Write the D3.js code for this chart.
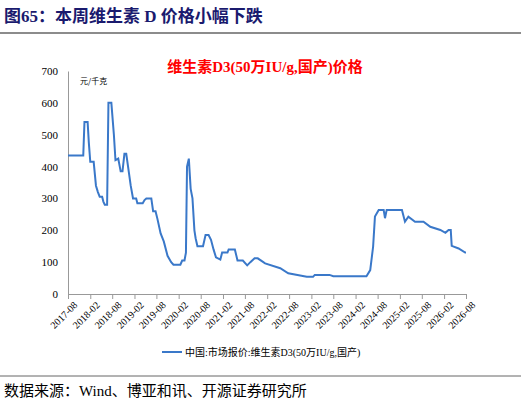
<!DOCTYPE html><html><head><meta charset="utf-8"><script src="https://cdn.jsdelivr.net/npm/d3@7"></script>
<style>body{margin:0;background:#fff}</style></head><body><svg id="c" width="521" height="407"></svg>
<script>
const dates=["2017-08-01","2017-12-05","2017-12-15","2018-01-10","2018-01-20","2018-02-01","2018-03-01","2018-03-20","2018-04-05","2018-04-20","2018-05-10","2018-05-20","2018-06-01","2018-06-20","2018-07-01","2018-07-25","2018-08-15","2018-08-28","2018-09-20","2018-10-10","2018-10-25","2018-11-10","2018-11-25","2018-12-10","2019-01-01","2019-01-20","2019-02-15","2019-02-25","2019-04-10","2019-04-25","2019-05-10","2019-06-20","2019-07-05","2019-07-25","2019-08-10","2019-09-05","2019-10-01","2019-11-01","2019-12-01","2019-12-20","2020-02-15","2020-03-01","2020-03-20","2020-04-01","2020-04-10","2020-04-25","2020-05-10","2020-05-25","2020-06-10","2020-06-20","2020-07-05","2020-08-20","2020-09-10","2020-10-05","2020-10-25","2020-11-15","2020-12-05","2021-01-10","2021-01-25","2021-03-10","2021-03-20","2021-05-10","2021-06-01","2021-07-15","2021-08-20","2021-09-15","2021-10-20","2021-11-15","2022-01-15","2022-05-20","2022-07-25","2022-12-25","2023-02-15","2023-03-01","2023-07-01","2023-08-01","2024-05-01","2024-06-01","2024-06-25","2024-07-10","2024-08-10","2024-09-20","2024-10-01","2024-10-15","2025-02-18","2025-03-15","2025-04-12","2025-06-06","2025-08-15","2025-10-10","2026-01-01","2026-02-12","2026-03-10","2026-03-28","2026-04-05","2026-06-01","2026-07-25","2026-08-01"];
const values=[435,435,540,540,475,415,415,340,320,305,305,290,280,280,600,600,500,420,425,385,385,440,440,400,340,300,300,285,285,295,300,300,260,260,235,190,165,120,100,92,92,105,105,130,400,425,330,300,200,175,150,150,185,185,170,140,115,108,130,130,140,140,105,105,90,100,112,112,96,81,65,54,54,60,60,56,56,75,149,243,264,264,238,264,264,227,243,227,227,211,201,192,201,201,151,143,130,130];
const yTicks=[0,100,200,300,400,500,600,700];
const xTickLabels=d3.range(0,19).map(i=>{const d=new Date(2017,7+6*i,1);return d3.timeFormat("%Y-%m")(d);});
const svg=d3.select("#c");
const serif="'Liberation Serif','Times New Roman',serif", cjk="'Noto Sans CJK SC',sans-serif";
const x=d3.scaleTime().domain([new Date(2017,7,1),new Date(2026,7,1)]).range([68,466]);
const y=d3.scaleLinear().domain([0,700]).range([294,71]);
svg.append("text").attr("x",4).attr("y",22).attr("font-family",serif+","+cjk).attr("font-weight","bold").attr("font-size",17).attr("fill","#1a1a6e").text("图65：本周维生素 D 价格小幅下跌");
svg.append("line").attr("x1",0).attr("x2",521).attr("y1",33).attr("y2",33).attr("stroke","#666").attr("stroke-width",1.5);
svg.append("text").attr("x",265).attr("y",72).attr("text-anchor","middle").attr("font-family",serif+","+cjk).attr("font-weight","bold").attr("font-size",15).attr("fill","#ff0000").text("维生素D3(50万IU/g,国产)价格");
const ya=svg.append("g").attr("transform","translate(68,0)").call(d3.axisLeft(y).tickValues(yTicks).tickSize(0).tickPadding(10));
ya.select(".domain").attr("stroke","#999");
ya.selectAll("text").attr("font-family",serif).attr("font-size",11).attr("fill","#000");
const xa=svg.append("g").attr("transform","translate(0,294)").call(d3.axisBottom(x).tickValues(xTickLabels.map(s=>d3.timeParse("%Y-%m")(s))).tickFormat(d3.timeFormat("%Y-%m")).tickSize(5));
xa.select(".domain").attr("stroke","#999");xa.selectAll("line").attr("stroke","#999");
xa.selectAll("text").attr("font-family",serif).attr("font-size",10).attr("fill","#000").attr("text-anchor","end").attr("dy",0).attr("transform","translate(4,6) rotate(-45)");
svg.append("text").attr("x",80).attr("y",84).attr("font-family",cjk).attr("font-size",8).text("元/千克");
const data=dates.map((d,i)=>[d3.timeParse("%Y-%m-%d")(d),values[i]]);
svg.append("path").datum(data).attr("fill","none").attr("stroke","#3a78c9").attr("stroke-width",2).attr("d",d3.line().x(d=>x(d[0])).y(d=>y(d[1])));
svg.append("line").attr("x1",162).attr("x2",182).attr("y1",352).attr("y2",352).attr("stroke","#3a78c9").attr("stroke-width",2);
svg.append("text").attr("x",185).attr("y",356).attr("font-family",serif+","+cjk).attr("font-size",10).text("中国:市场报价:维生素D3(50万IU/g,国产)");
svg.append("line").attr("x1",0).attr("x2",521).attr("y1",376).attr("y2",376).attr("stroke","#666");
svg.append("text").attr("x",4).attr("y",396).attr("font-family",serif+","+cjk).attr("font-size",15).text("数据来源：Wind、博亚和讯、开源证券研究所");
</script></body></html>
